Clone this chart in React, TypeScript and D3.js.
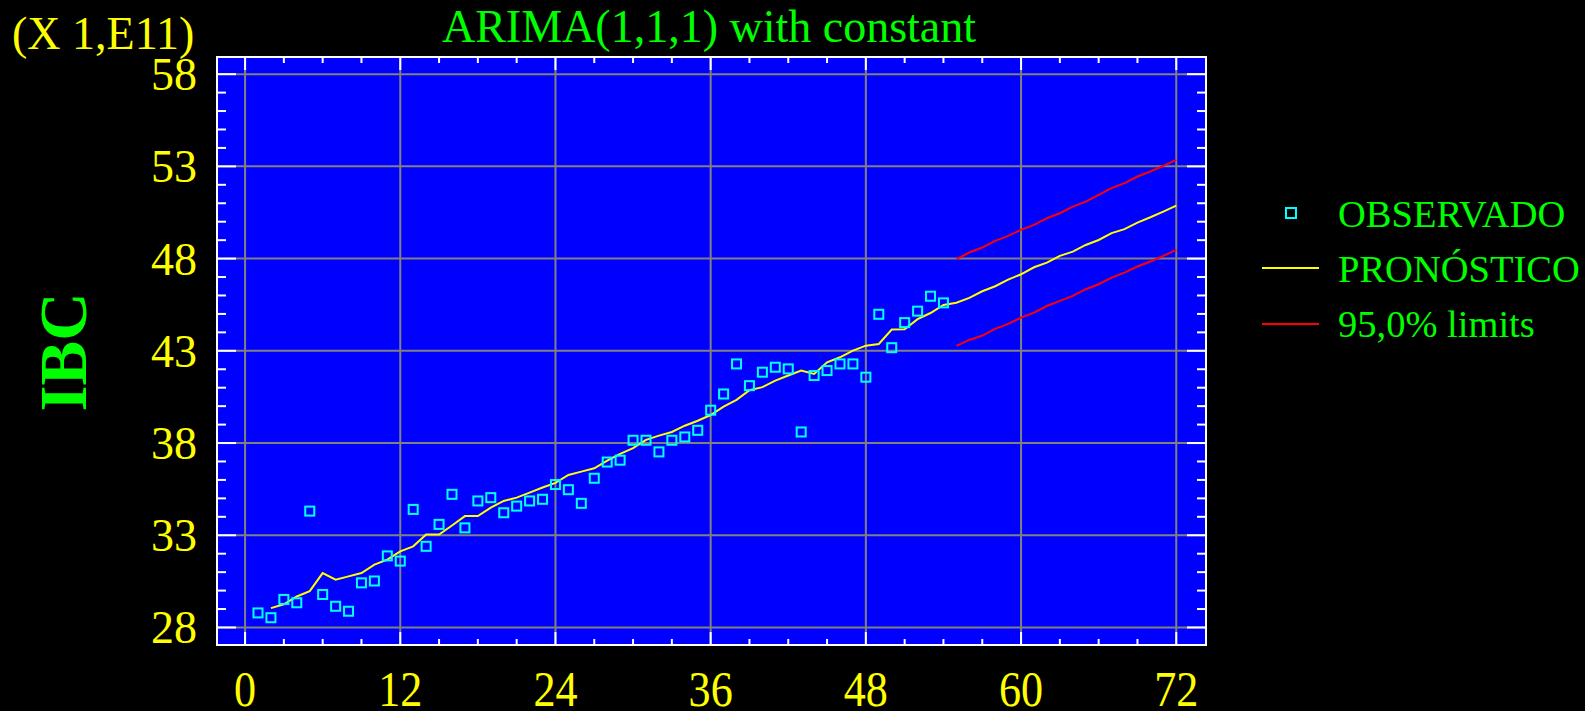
import React from 'react';
import * as d3 from 'd3';

// observed IBC values (units of 1e11), periods 1..54
const observed: number[] = [
  28.79, 28.53, 29.52, 29.34, 34.31, 29.79, 29.15, 28.88, 30.42, 30.52,
  31.88, 31.6, 34.4, 32.4, 33.59, 35.22, 33.4, 34.86, 35.04, 34.22,
  34.58, 34.86, 34.95, 35.75, 35.47, 34.73, 36.09, 36.97, 37.07, 38.15,
  38.15, 37.52, 38.15, 38.33, 38.69, 39.78, 40.66, 42.29, 41.11, 41.84,
  42.11, 42.02, 38.6, 41.66, 41.93, 42.29, 42.29, 41.57, 44.98, 43.17,
  44.53, 45.15, 45.96, 45.6,
];

// fitted + forecast, periods 2..72
const forecast: number[] = [
  29.05, 29.26, 29.68, 29.97, 30.95, 30.59, 30.77, 30.95, 31.41, 31.68,
  32.13, 32.4, 33.04, 33.04, 33.53, 34.04, 34.04, 34.5, 34.86, 35.04,
  35.31, 35.59, 35.84, 36.27, 36.45, 36.63, 37.05, 37.41, 37.72, 38.17,
  38.4, 38.6, 38.94, 39.21, 39.52, 39.97, 40.34, 40.86, 41.03, 41.38,
  41.66, 41.93, 41.75, 42.38, 42.65, 43.01, 43.28, 43.37, 44.15, 44.17,
  44.72, 45.05, 45.49, 45.61, 45.87, 46.23, 46.5, 46.86, 47.15, 47.53,
  47.78, 48.15, 48.38, 48.74, 49.01, 49.38, 49.6, 49.95, 50.24, 50.55,
  50.87,
];

// 95% limits, periods 55..72
const upper: number[] = [
  47.97, 48.33, 48.6, 48.96, 49.23, 49.56, 49.83, 50.19, 50.46, 50.82,
  51.09, 51.45, 51.82, 52.09, 52.45, 52.72, 53.03, 53.35,
];
const lower: number[] = [
  43.27, 43.59, 43.82, 44.19, 44.46, 44.8, 45.07, 45.43, 45.71, 45.98,
  46.34, 46.61, 46.97, 47.24, 47.57, 47.84, 48.15, 48.47,
];

const xTicks = [0, 12, 24, 36, 48, 60, 72];
const yTicks = [28, 33, 38, 43, 48, 53, 58];
const legendLabels = ['OBSERVADO', 'PRONÓSTICO', '95,0% limits'];

const W = 1585;
const H = 711;
const L = 217, R = 1206, T = 57, B = 645;

const font = '"Liberation Serif", "DejaVu Serif", serif';

export default function App() {
  const x = d3.scaleLinear().domain([-2.17, 74.3]).range([L, R]);
  const y = d3.scaleLinear().domain([27.05, 58.93]).range([B, T]);

  const line = d3
    .line<[number, number]>()
    .x((d) => x(d[0]))
    .y((d) => y(d[1]));

  const fcPts: [number, number][] = forecast.map((v, i) => [i + 2, v]);
  const upPts: [number, number][] = upper.map((v, i) => [i + 55, v]);
  const loPts: [number, number][] = lower.map((v, i) => [i + 55, v]);

  const minorX = d3.range(0, 73, 3).filter((t) => t % 12 !== 0);
  const minorY = d3.range(28, 59, 1).filter((v) => (v - 28) % 5 !== 0);

  return (
    <svg
      width={W}
      height={H}
      style={{ position: 'absolute', left: 0, top: 0, background: '#000' }}
    >
      <rect x={0} y={0} width={W} height={H} fill="#000" />
      <rect x={L} y={T} width={R - L} height={B - T} fill="#0000ff" />

      {/* grid */}
      {xTicks.map((t) => (
        <line key={'gx' + t} x1={x(t)} x2={x(t)} y1={T} y2={B} stroke="#808080" strokeWidth={2} />
      ))}
      {yTicks.map((v) => (
        <line key={'gy' + v} x1={L} x2={R} y1={y(v)} y2={y(v)} stroke="#808080" strokeWidth={2} />
      ))}

      {/* ticks */}
      <g stroke="#ffffff" strokeWidth={2}>
        {xTicks.map((t) => (
          <g key={'tx' + t}>
            <line x1={x(t)} x2={x(t)} y1={B} y2={B - 13} />
            <line x1={x(t)} x2={x(t)} y1={T} y2={T + 13} />
          </g>
        ))}
        {minorX.map((t) => (
          <g key={'mx' + t}>
            <line x1={x(t)} x2={x(t)} y1={B} y2={B - 6} />
            <line x1={x(t)} x2={x(t)} y1={T} y2={T + 6} />
          </g>
        ))}
        {yTicks.map((v) => (
          <g key={'ty' + v}>
            <line x1={L} x2={L + 19} y1={y(v)} y2={y(v)} />
            <line x1={R} x2={R - 19} y1={y(v)} y2={y(v)} />
          </g>
        ))}
        {minorY.map((v) => (
          <g key={'my' + v}>
            <line x1={L} x2={L + 9} y1={y(v)} y2={y(v)} />
            <line x1={R} x2={R - 9} y1={y(v)} y2={y(v)} />
          </g>
        ))}
      </g>

      {/* series */}
      <path d={line(upPts) || ''} fill="none" stroke="#ff0000" strokeWidth={2} />
      <path d={line(loPts) || ''} fill="none" stroke="#ff0000" strokeWidth={2} />
      <path d={line(fcPts) || ''} fill="none" stroke="#ffff00" strokeWidth={2} />
      {observed.map((v, i) => (
        <rect
          key={'o' + i}
          x={x(i + 1) - 4.5}
          y={y(v) - 4.5}
          width={9}
          height={9}
          fill="none"
          stroke="#00ffff"
          strokeWidth={2}
        />
      ))}

      {/* frame */}
      <rect x={L} y={T} width={R - L} height={B - T} fill="none" stroke="#ffffff" strokeWidth={2} />

      {/* tick labels */}
      <g fill="#ffff00" fontFamily={font} fontSize={46}>
        {xTicks.map((t) => (
          <text
            key={'lx' + t}
            transform={`translate(${x(t)},706) scale(0.96,1.08)`}
            textAnchor="middle"
          >
            {t}
          </text>
        ))}
        {yTicks.map((v) => (
          <text key={'ly' + v} x={197} y={y(v) + 16} textAnchor="end">
            {v}
          </text>
        ))}
        <text x={12} y={49}>(X 1,E11)</text>
      </g>

      {/* titles */}
      <text x={709} y={42} textAnchor="middle" fill="#00ff00" fontFamily={font} fontSize={46}>
        ARIMA(1,1,1) with constant
      </text>
      <text
        transform="translate(86,352) rotate(-90)"
        textAnchor="middle"
        fill="#00ff00"
        fontFamily={font}
        fontSize={67}
        fontWeight="bold"
      >
        IBC
      </text>

      {/* legend */}
      <rect x={1286} y={208} width={10} height={10} fill="none" stroke="#00ffff" strokeWidth={2} />
      <line x1={1262} x2={1319} y1={268} y2={268} stroke="#ffff00" strokeWidth={2} />
      <line x1={1262} x2={1319} y1={324} y2={324} stroke="#ff0000" strokeWidth={2} />
      <g fill="#00ff00" fontFamily={font} fontSize={38.5}>
        {legendLabels.map((s, i) => (
          <text key={s} x={1338} y={227 + i * 55}>
            {s}
          </text>
        ))}
      </g>
    </svg>
  );
}
